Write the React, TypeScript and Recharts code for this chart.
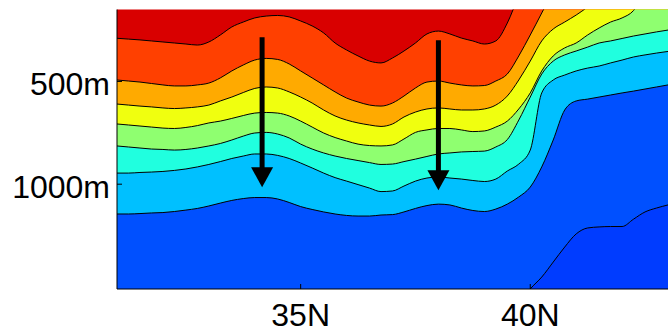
import { ComposedChart, Area, Line, XAxis, YAxis, CartesianGrid, ReferenceLine } from 'recharts';

const FONT = '"Liberation Sans", Arial, sans-serif';

// latitude grid (deg N)
const lats = [
  31, 31.25, 31.5, 31.75, 32, 32.25, 32.5, 32.75, 33, 33.25, 33.5, 33.75,
  34, 34.25, 34.5, 34.75, 35, 35.25, 35.5, 35.75, 36, 36.25, 36.5, 36.75,
  37, 37.25, 37.5, 37.75, 38, 38.25, 38.5, 38.75, 39, 39.25, 39.5, 39.75,
  40, 40.25, 40.5, 40.75, 41, 41.25, 41.5, 41.75, 42, 42.25, 42.5, 42.75, 43,
];

// depth (m) of each contour, shallow -> deep; values above 150m run off the top
const contour1 = [
  290, 294, 298, 303, 308, 313, 318, 323, 308, 274, 235, 211,
  191, 182, 179, 186, 206, 230, 264, 313, 347, 376, 401, 410,
  386, 352, 313, 269, 255, 269, 289, 303, 318, 303, 216, 79,
  -66, -100, -100, -100, -100, -100, -100, -100, -100, -100, -100, -100, -100,
];
const contour2 = [
  493, 498, 503, 510, 517, 522, 522, 517, 508, 483, 449, 420,
  396, 388, 393, 415, 449, 483, 517, 551, 581, 600, 615, 620,
  605, 571, 532, 503, 498, 508, 517, 522, 520, 498, 464, 376,
  274, 167, 55, -100, -100, -100, -100, -100, -100, -100, -100, -100, -100,
];
const contour3 = [
  610, 615, 620, 624, 629, 632, 629, 624, 615, 595, 576, 554,
  534, 527, 532, 551, 576, 605, 639, 668, 688, 702, 712, 719,
  707, 673, 649, 634, 629, 634, 639, 639, 634, 615, 571, 493,
  401, 303, 245, 211, 177, 138, 94, 31, -50, -50, -50, -50, -50,
];
const contour4 = [
  707, 712, 717, 722, 727, 729, 724, 715, 702, 693, 680, 666,
  654, 651, 654, 668, 693, 722, 751, 773, 790, 805, 812, 814,
  809, 780, 748, 736, 729, 729, 736, 744, 741, 722, 693, 634,
  556, 449, 376, 337, 313, 274, 240, 211, 191, 155, 65, 0, 0,
];
const contour5 = [
  814, 819, 824, 829, 831, 834, 831, 824, 814, 802, 785, 766,
  751, 748, 756, 775, 805, 829, 848, 863, 875, 885, 895, 904,
  902, 890, 878, 865, 853, 848, 843, 841, 839, 819, 783, 688,
  576, 464, 401, 371, 352, 333, 313, 303, 291, 279, 269, 259, 250,
];
const contour6 = [
  946, 946, 943, 941, 938, 933, 926, 916, 904, 890, 875, 863,
  853, 853, 860, 875, 897, 921, 946, 968, 985, 1002, 1019, 1036,
  1033, 1009, 985, 970, 965, 970, 975, 982, 987, 975, 936, 902,
  834, 556, 493, 469, 449, 435, 425, 410, 396, 381, 371, 362, 354,
];
const contour7 = [
  1145, 1145, 1143, 1140, 1138, 1133, 1126, 1118, 1106, 1092, 1079, 1070,
  1065, 1065, 1072, 1089, 1109, 1123, 1135, 1145, 1152, 1155, 1155, 1150,
  1148, 1135, 1118, 1104, 1097, 1101, 1116, 1128, 1133, 1121, 1097, 1062,
  1014, 916, 785, 639, 595, 586, 576, 566, 556, 547, 537, 527, 517,
];
const contour8 = [
  null, null, null, null, null, null, null, null, null, null, null, null,
  null, null, null, null, null, null, null, null, null, null, null, null,
  null, null, null, null, null, null, null, null, null, null, 1650, 1588,
  1510, 1452, 1379, 1306, 1242, 1213, 1208, 1206, 1206, 1170, 1135, 1116, 1101,
];

const contours = [contour1, contour2, contour3, contour4, contour5, contour6, contour7, contour8];
const topColor = '#d90000';
const bandColors = ['#ff4000', '#ffaa00', '#f0ff0f', '#8fff70', '#20ffdf', '#00c0ff', '#0050ff', '#003cff'];

const latTicks = [35, 40];
const depthTicks = [500, 1000];

const arrows = [
  { lat: 34.16, from: 285, to: 1015 },
  { lat: 38.0, from: 300, to: 1030 },
];

const data = lats.map((lat, i) => {
  const row: Record<string, number | null> = { lat };
  contours.forEach((c, k) => {
    row[`c${k + 1}`] = c[i];
  });
  return row;
});

const LatTick = ({ x, y, payload }: any) => (
  <text x={x} y={y} dy={23} textAnchor="middle" fill="#000" fontSize={32} fontFamily={FONT}>
    {payload.value}N
  </text>
);

const DepthTick = ({ x, y, payload }: any) => (
  <text x={x} y={y} dy={14} textAnchor="end" fill="#000" fontSize={32} fontFamily={FONT}>
    {payload.value}m
  </text>
);

const ArrowShape = ({ x1, y1, x2, y2 }: any) => {
  const head = 20;
  const half = 11;
  return (
    <g>
      <line x1={x1} y1={y1} x2={x2} y2={y2 - head + 2} stroke="#000" strokeWidth={5} />
      <polygon points={`${x2 - half},${y2 - head} ${x2 + half},${y2 - head} ${x2},${y2}`} fill="#000" />
    </g>
  );
};

export default function App() {
  // pinned to the window corner so nothing overflows the 668x329 page
  return (
    <div style={{ position: 'absolute', left: 0, top: 0, width: 668, height: 329 }}>
      <ComposedChart width={668} height={329} data={data} margin={{ top: 9.5, right: 0, bottom: 0, left: 0 }}>
        <CartesianGrid horizontal={false} vertical={false} fill={topColor} />
        <XAxis
          dataKey="lat"
          type="number"
          domain={[31, 43]}
          ticks={latTicks}
          allowDataOverflow
          height={40}
          tickSize={-5}
          tickMargin={19}
          tick={<LatTick />}
          axisLine={{ stroke: '#000' }}
          tickLine={{ stroke: '#000' }}
        />
        <XAxis
          xAxisId="top"
          orientation="top"
          dataKey="lat"
          type="number"
          domain={[31, 43]}
          ticks={latTicks}
          height={0}
          tickSize={-5}
          tick={false}
          axisLine={{ stroke: '#000' }}
          tickLine={{ stroke: '#000' }}
        />
        <YAxis
          type="number"
          domain={[150, 1510]}
          reversed
          allowDataOverflow
          ticks={depthTicks}
          width={117}
          tickSize={-5}
          tickMargin={12}
          tick={<DepthTick />}
          axisLine={{ stroke: '#000' }}
          tickLine={{ stroke: '#000' }}
        />
        <YAxis
          yAxisId="right"
          orientation="right"
          type="number"
          domain={[150, 1510]}
          reversed
          ticks={depthTicks}
          width={0}
          tickSize={-5}
          tick={false}
          axisLine={{ stroke: '#000' }}
          tickLine={{ stroke: '#000' }}
        />
        {contours.map((_, k) => (
          <Area
            key={`a${k}`}
            dataKey={`c${k + 1}`}
            type="monotone"
            baseValue="dataMax"
            fill={bandColors[k]}
            fillOpacity={1}
            stroke="none"
            isAnimationActive={false}
          />
        ))}
        {contours.map((_, k) => (
          <Line
            key={`l${k}`}
            dataKey={`c${k + 1}`}
            type="monotone"
            stroke="#000"
            strokeWidth={1}
            dot={false}
            activeDot={false}
            isAnimationActive={false}
          />
        ))}
        {arrows.map((a, i) => (
          <ReferenceLine
            key={`arrow${i}`}
            segment={[{ x: a.lat, y: a.from }, { x: a.lat, y: a.to }]}
            shape={<ArrowShape />}
          />
        ))}
      </ComposedChart>
    </div>
  );
}
